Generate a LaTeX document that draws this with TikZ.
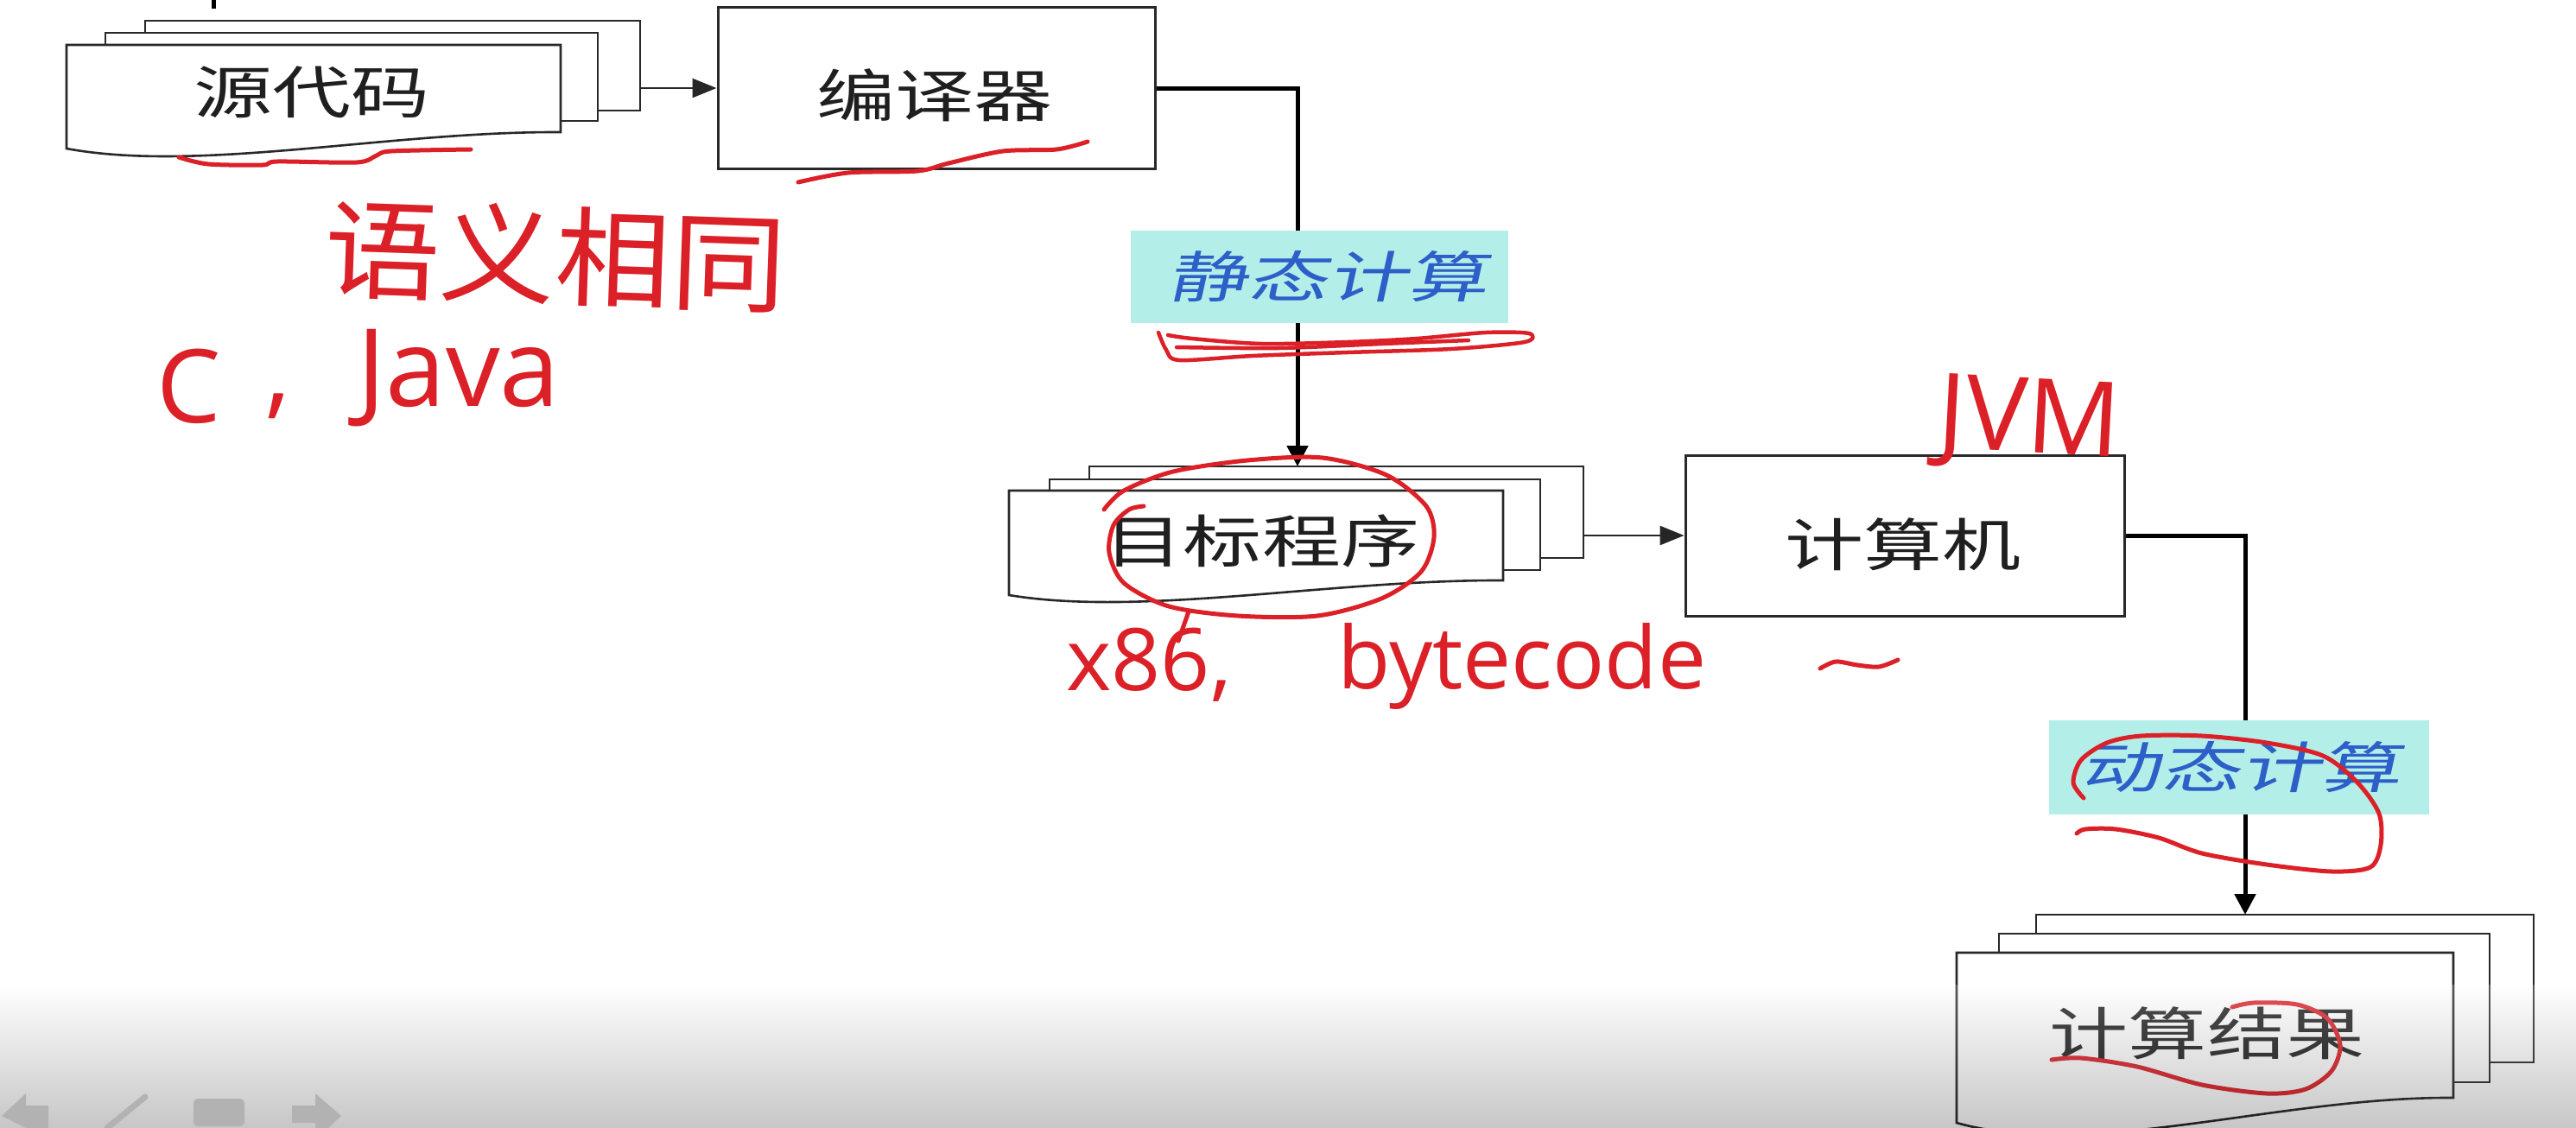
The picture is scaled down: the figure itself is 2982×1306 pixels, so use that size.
\documentclass[tikz,border=0pt]{standalone}
\usepackage{fontspec}
\setmainfont{Liberation Sans}
\newfontfamily\cjk[FakeStretch=1.38]{Noto Sans CJK SC}
\newfontfamily\cjkit[FakeStretch=1.45,FakeSlant=0.22]{Noto Sans CJK SC}
\newfontfamily\handcjk[FakeStretch=1.07]{Noto Sans CJK SC}
\newfontfamily\handlat{Open Sans}
\usetikzlibrary{arrows.meta,calc}
\definecolor{inkred}{RGB}{220,32,40}
\definecolor{labcyan}{RGB}{180,238,232}
\definecolor{labblue}{RGB}{45,95,200}
\definecolor{edgec}{RGB}{40,40,40}
\definecolor{icongray}{RGB}{178,178,178}
\newcommand{\pagenode}[5]{\node[pagebox, minimum width={(#4-#2)*1pt}, minimum height={(#5-#3)*1pt}] (#1) at ({(#2+#4)/2},{(#3+#5)/2}) {};}
\newcommand{\frontpage}[5]{\draw[pagebox] (#1,#2) -- (#3,#2) -- (#3,#5) .. controls ({#1+0.65*(#3-#1)},{#5-0.05*(#4-#5)}) and ({#1+0.27*(#3-#1)},{#4+1.5*(#4-#5)}) .. (#1,#4) -- cycle;}
\begin{document}
\begin{tikzpicture}[x=1pt,y=-1pt,
  pagebox/.style={draw=edgec, line width=2.6pt, fill=white, inner sep=0pt},
  procbox/.style={draw=edgec, line width=3pt, fill=white, inner sep=0pt},
  blk/.style={text=black!88, inner sep=0pt, font=\cjk\fontsize{66}{70}\selectfont},
  lab/.style={fill=labcyan, text=labblue, inner sep=0pt, font=\cjkit\fontsize{64}{70}\selectfont},
  conn/.style={draw=black, line width=5pt},
  thinconn/.style={draw=black!85, line width=2.8pt},
  tip/.style={-{Triangle[length=24pt,width=24pt]}},
  smalltip/.style={-{Triangle[length=28pt,width=22pt]}},
  ink/.style={draw=inkred, line width=5pt, line cap=round, line join=round},
  inktext/.style={text=inkred, inner sep=0pt}
]
\useasboundingbox (0,0) rectangle (2982,1306);
\clip (0,0) rectangle (2982,1306);
\fill[white] (0,0) rectangle (2982,1306);
% cut-off mark at top
\draw[line width=5pt] (247,0) -- (247,10);

% source code stack
\pagenode{srcB}{168}{24}{741}{128}
\pagenode{srcM}{122}{38}{692}{140}
\frontpage{77}{52}{649}{172}{153}
\node[blk] (src) at (361,107) {源代码};

% compiler
\node[procbox, minimum width=506pt, minimum height=187pt] (comp) at (1084,102) {};
\node[blk] (compt) at (1082,110) {编译器};

% target program stack
\pagenode{tgtB}{1261}{540}{1833}{646}
\pagenode{tgtM}{1215}{555}{1783}{660}
\frontpage{1168}{568}{1740}{689}{672}
\node[blk] (tgt) at (1461,626) {目标程序};

% computer
\node[procbox, minimum width=508pt, minimum height=186pt] (cmp) at (2205,620) {};
\node[blk] (cmpt) at (2203,630) {计算机};

% result stack
\pagenode{resB}{2357}{1059}{2933}{1230}
\pagenode{resM}{2314}{1081}{2882}{1253}
\frontpage{2265}{1103}{2840}{1300}{1271}
\node[blk] (res) at (2555,1196) {计算结果};

% connectors
\coordinate (t1) at (1502,540);
\coordinate (t2) at (2599,1059);
\draw[thinconn, smalltip] (srcB.east |- comp.west) -- (comp.west);
\draw[conn, tip] (comp.east) -| (t1);
\draw[thinconn, smalltip] (tgtB.east |- cmp.west) -- (cmp.west);
\draw[conn, tip] (cmp.east) -| (t2);

% labels
\node[lab, minimum width=437pt, minimum height=107pt] (stat) at (1527,320) {\hspace*{20pt}静态计算};
\node[lab, minimum width=440pt, minimum height=109pt] (dyn) at (2592,888) {\hspace*{4pt}动态计算};

% handwritten annotations
\draw[ink] plot[smooth] coordinates {(207,182) (241,190) (304,191) (321,187) (413,188) (436,180) (453,175) (545,173)};
\draw[ink] plot[smooth] coordinates {(924,211) (982,200) (1062,198) (1098,189) (1161,175) (1223,173) (1259,164)};
\node[inktext, font=\handcjk\fontsize{125}{130}\selectfont, rotate=-2] (h1) at (643,296) {语义相同};
\node[inktext, font=\handlat\fontsize{118}{120}\selectfont] (h2) at (219,447) {C};
\node[inktext, font=\handlat\fontsize{118}{120}\selectfont] (h3) at (322,470) {,};
\node[inktext, font=\handlat\fontsize{125}{130}\selectfont] (h4) at (531,438) {Java};
\draw[ink, line width=4.5pt] plot[smooth] coordinates {(1341,385) (1350,405) (1365,417) (1450,412) (1560,408) (1680,404) (1765,396) (1770,386) (1720,385) (1640,392) (1560,396) (1460,398) (1380,392) (1352,388)};
\draw[ink, line width=4.5pt] plot[smooth] coordinates {(1362,402) (1480,403) (1600,398) (1700,394)};
\draw[ink] plot[smooth] coordinates {(1278,590) (1301,568) (1358,546) (1444,533) (1531,530) (1605,550) (1651,586) (1660,622) (1645,662) (1599,693) (1525,713) (1433,713) (1353,702) (1301,675) (1284,640) (1289,608) (1307,590) (1324,586)};
\draw[ink] (1376,708) -- (1364,742);
\node[inktext, font=\handlat\fontsize{100}{110}\selectfont] (h5) at (1330,770) {x86,};
\node[inktext, font=\handlat\fontsize{100}{110}\selectfont] (h6) at (1762,772) {bytecode};
\node[inktext, font=\handlat\fontsize{120}{125}\selectfont, rotate=-3] (h7) at (2349,492) {JVM};
\draw[ink] plot[smooth] coordinates {(2107,774) (2125,766) (2150,770) (2175,772) (2197,764)};
\draw[ink] plot[smooth] coordinates {(2412,924) (2400,906) (2409,880) (2439,860) (2479,852) (2549,852) (2624,860) (2689,875) (2729,906) (2754,942) (2756,978) (2744,1004) (2699,1009) (2624,1001) (2549,988) (2499,970) (2449,960) (2414,960) (2404,965)};
\draw[ink] plot[smooth] coordinates {(2375,1227) (2409,1225) (2474,1235) (2549,1256) (2624,1266) (2669,1261) (2699,1240) (2709,1210) (2694,1179) (2659,1163) (2609,1161) (2584,1166)};

% player overlay at bottom
\shade[top color=white, bottom color=black, opacity=0.22] (0,1140) rectangle (2982,1306);
\fill[icongray] (2,1292) -- (30,1266) -- (30,1280) -- (56,1280) -- (56,1306) -- (30,1306) -- cycle;
\draw[icongray, line width=7pt, line cap=round] (124,1306) -- (168,1270);
\fill[icongray, rounded corners=5pt] (224,1272) rectangle (283,1304);
\fill[icongray] (395,1292) -- (365,1266) -- (365,1280) -- (338,1280) -- (338,1300) -- (365,1300) -- (365,1306) -- (380,1306) -- cycle;
\end{tikzpicture}
\end{document}
